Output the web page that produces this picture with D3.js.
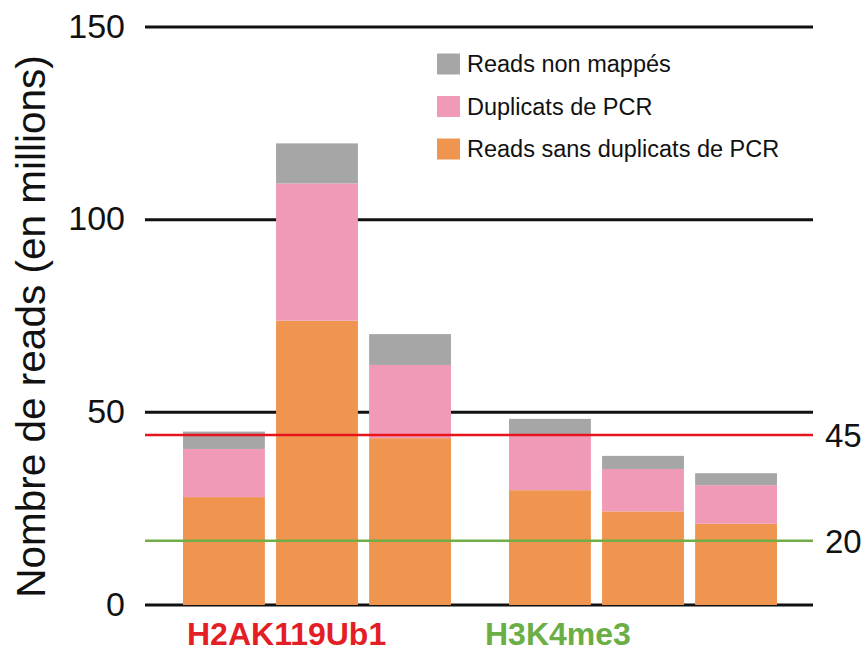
<!DOCTYPE html>
<html>
<head>
<meta charset="utf-8">
<script src="https://cdn.jsdelivr.net/npm/d3@7/dist/d3.min.js"></script>
<style>
  html, body { margin: 0; padding: 0; background: #fff; }
  svg { display: block; font-family: "Liberation Sans", Arial, sans-serif; }
</style>
</head>
<body>
<svg id="chart" width="866" height="654"></svg>
<script>
// ---- Data ----
const groups = ["H2AK119Ub1", "H3K4me3"];
const bars = [
  { id: "a1", group: "H2AK119Ub1" },
  { id: "a2", group: "H2AK119Ub1" },
  { id: "a3", group: "H2AK119Ub1" },
  { id: "b1", group: "H3K4me3" },
  { id: "b2", group: "H3K4me3" },
  { id: "b3", group: "H3K4me3" }
];
const seriesNames = ["Reads sans duplicats de PCR", "Duplicats de PCR", "Reads non mappés"];
const readsSansDuplicats = [28.0, 73.8, 43.3, 29.8, 24.3, 21.1];
const duplicatsPCR       = [12.5, 35.6, 19.0, 14.3, 11.0, 10.0];
const readsNonMappes     = [4.5, 10.4, 8.0, 4.2, 3.4, 3.1];
const yTicks = [0, 50, 100, 150];
const thresholdValues = [44.1, 16.7];
const thresholdLabels = ["45", "20"];
const groupColors = ["#e31e24", "#6aae45"];
const seriesColors = ["#f09550", "#f09ab8", "#a6a6a6"];
const thresholdColors = ["#e8141c", "#70ad47"];

// ---- Layout ----
const svg = d3.select("#chart");
const plotLeft = 145, plotRight = 813, y0 = 605, yTop = 27;

const y = d3.scaleLinear().domain([0, 150]).range([y0, yTop]);
const outer = d3.scaleBand().domain(groups).range([183, 777]).paddingInner(0.178).paddingOuter(0);
const inner = d3.scaleBand().domain([0, 1, 2]).range([0, outer.bandwidth()]).paddingInner(0.12).paddingOuter(0);

const rows = bars.map((b, i) => ({
  ...b,
  idx: groups.indexOf(b.group),
  pos: bars.filter((c, j) => c.group === b.group && j < i).length,
  [seriesNames[0]]: readsSansDuplicats[i],
  [seriesNames[1]]: duplicatsPCR[i],
  [seriesNames[2]]: readsNonMappes[i]
}));
const stacked = d3.stack().keys(seriesNames)(rows);

// gridlines
svg.append("g").selectAll("line").data(yTicks).join("line")
  .attr("x1", plotLeft).attr("x2", plotRight)
  .attr("y1", d => y(d)).attr("y2", d => y(d))
  .attr("stroke", "#111").attr("stroke-width", 3);

// y axis labels
const yAxis = svg.append("g").attr("transform", `translate(${plotLeft},0)`)
  .call(d3.axisLeft(y).tickValues(yTicks).tickSize(0).tickPadding(20).tickFormat(d3.format("d")));
yAxis.select(".domain").remove();
yAxis.selectAll("text").attr("font-size", 34).attr("fill", "#111")
  .attr("font-family", "'Liberation Sans', Arial, sans-serif").attr("dy", "0.3em");

// bars
svg.append("g").selectAll("g").data(stacked).join("g")
  .attr("fill", (d, i) => seriesColors[i])
  .selectAll("rect").data(d => d).join("rect")
  .attr("x", d => outer(d.data.group) + inner(d.data.pos))
  .attr("width", inner.bandwidth())
  .attr("y", d => y(d[1]))
  .attr("height", d => y(d[0]) - y(d[1]));

// threshold lines
svg.append("g").selectAll("line").data(thresholdValues).join("line")
  .attr("x1", plotLeft).attr("x2", plotRight)
  .attr("y1", d => y(d)).attr("y2", d => y(d))
  .attr("stroke", (d, i) => thresholdColors[i]).attr("stroke-width", 2.5);
svg.append("g").selectAll("text").data(thresholdValues).join("text")
  .attr("x", plotRight + 12).attr("y", d => y(d)).attr("dy", "0.36em")
  .attr("font-size", 33).attr("fill", "#111")
  .text((d, i) => thresholdLabels[i]);

// y-axis title
svg.append("text")
  .attr("transform", `translate(45, ${(600 + 53) / 2}) rotate(-90)`)
  .attr("text-anchor", "middle").attr("font-size", 40.5).attr("fill", "#111")
  .text("Nombre de reads (en millions)");

// group labels
const groupLabelX = [187, 485];
svg.append("g").selectAll("text").data(groups).join("text")
  .attr("x", (d, i) => groupLabelX[i]).attr("y", 645)
  .attr("font-size", 32).attr("font-weight", "bold")
  .attr("fill", (d, i) => groupColors[i])
  .text(d => d);

// legend (top to bottom: non mappés, duplicats, sans duplicats)
const legendOrder = [2, 1, 0];
const lg = svg.append("g").selectAll("g").data(legendOrder).join("g")
  .attr("transform", (d, i) => `translate(437, ${64 + i * 42.5})`);
lg.append("rect").attr("x", 0).attr("y", -10.5).attr("width", 23).attr("height", 21)
  .attr("fill", d => seriesColors[d]);
lg.append("text").attr("x", 30).attr("y", 0).attr("dy", "0.35em")
  .attr("font-size", 23.5).attr("fill", "#111")
  .text(d => seriesNames[d]);
</script>
</body>
</html>
